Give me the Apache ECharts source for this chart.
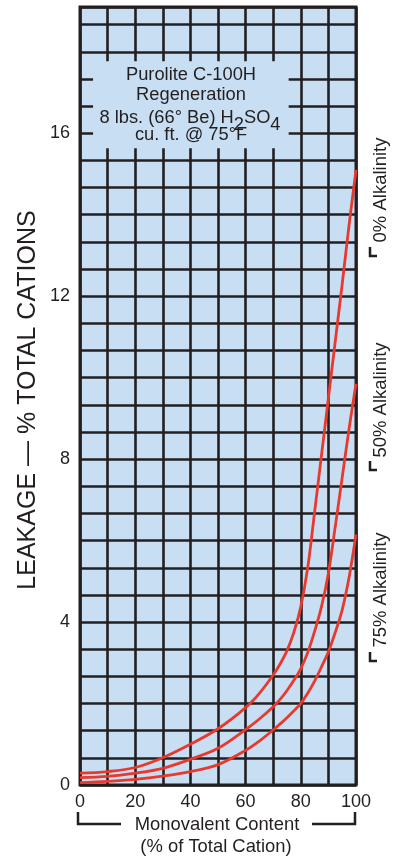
<!DOCTYPE html>
<html><head><meta charset="utf-8">
<script src="https://cdn.jsdelivr.net/npm/echarts@6/dist/echarts.min.js"></script>
<style>html,body{margin:0;padding:0;background:#fff}#c{width:399px;height:859px}</style>
</head><body><div id="c"></div>
<script>
// Data
const monovalent = [0,10,20,30,40,50,60,65,70,72.5,75,77.5,80,82.5,85,87.5,90,92.5,95,97.5,100];
const alk0  = [0.29,0.33,0.43,0.67,1.0,1.38,1.9,2.25,2.7,2.97,3.3,3.75,4.38,5.33,6.7,8.1,9.5,10.9,12.3,13.75,15.1];
const alk50 = [0.18,0.21,0.29,0.41,0.63,0.9,1.36,1.62,1.92,2.1,2.32,2.57,2.86,3.25,3.77,4.38,5.2,6.35,7.55,8.75,9.85];
const alk75 = [0.06,0.09,0.14,0.22,0.33,0.5,0.85,1.08,1.35,1.5,1.65,1.82,2.0,2.25,2.55,2.9,3.27,3.75,4.3,5.1,6.15];
const seriesNames = ['0% Alkalinity','50% Alkalinity','75% Alkalinity'];
const xTickLabels = [0,20,40,60,80,100];
const yTickLabels = [0,4,8,12,16];
const boxLines = ['Purolite C-100H','Regeneration','8 lbs. (66° Be) H{sub|2}SO{sub|4}','cu. ft. @ 75°F'];

const FONT = '"Liberation Sans", Arial, Helvetica, sans-serif';
const INK = '#231f20';
const BG = '#c8dff3';
const RED = '#e8392f';

const chart = echarts.init(document.getElementById('c'), null, {renderer:'canvas'});
const pair = arr => monovalent.map((x,i)=>[x,arr[i]]);
const mkSeries = (name, arr, extra) => Object.assign({
  name, type:'line', data: pair(arr), xAxisIndex:0, yAxisIndex:0,
  showSymbol:false, smooth:0.35,
  lineStyle:{color:RED, width:2.8}, z:5
}, extra||{});

const option = {
  animation:false,
  backgroundColor:'#ffffff',
  grid:{left:80, right:43, top:7, bottom:74, show:true, backgroundColor:BG, borderColor:INK, borderWidth:3},
  xAxis:{type:'value', min:0, max:100, interval:10,
    axisLine:{show:false}, axisTick:{show:false},
    splitLine:{show:true, lineStyle:{color:INK, width:2.6}},
    axisLabel:{margin:8, color:INK, fontSize:18, fontFamily:FONT,
      formatter:v=> xTickLabels.indexOf(v)>=0 ? String(v) : ''}},
  yAxis:[
    {type:'value', min:0, max:19.1, interval:2/3,
      axisLine:{show:false}, axisTick:{show:false}, axisLabel:{show:false},
      splitLine:{show:true, lineStyle:{color:INK, width:2.6}}},
    {type:'value', min:0, max:19.1, interval:4, position:'left',
      axisLine:{show:false}, axisTick:{show:false}, splitLine:{show:false},
      axisLabel:{margin:10, color:INK, fontSize:18, fontFamily:FONT,
        formatter:v=> yTickLabels.indexOf(v)>=0 ? String(v) : ''}}
  ],
  series:[
    mkSeries(seriesNames[0], alk0, {
      markArea:{silent:true, itemStyle:{color:BG, borderWidth:0, opacity:1},
        data:[[{coord:[4.73,17.77]},{coord:[75.6,15.63]}]]}
    }),
    mkSeries(seriesNames[1], alk50),
    mkSeries(seriesNames[2], alk75)
  ],
  graphic:[]
};

const g = [];
const txt = (text, x, y, size, extra, rot) => {
  const el = {type:'text', x, y, z:100, silent:true,
    style:Object.assign({text, x:0, y:0, fill:INK, font:size+'px '+FONT,
      align:'center', verticalAlign:'middle', textAlign:'center', textVerticalAlign:'middle'}, extra||{})};
  if (rot) el.rotation = rot;
  g.push(el);
};
// Box text
txt(boxLines[0], 191, 75, 18.3);
txt(boxLines[1], 191, 95, 18.3);
txt(boxLines[2], 190, 118, 18.3, {rich:{sub:{font:'18.3px '+FONT, fill:INK, padding:[13,0,0,0]}}});
txt(boxLines[3], 191, 135, 18.3);
// Y-axis title
txt('LEAKAGE — % TOTAL CATIONS', 28, 400, 25, null, Math.PI/2);
// X-axis title
txt('Monovalent Content', 217, 825, 18.4);
txt('(% of Total Cation)', 216, 847, 18.4);
// Bracket lines for x title
g.push({type:'polyline', silent:true, z:100, shape:{points:[[78,812],[78,824],[121,824]]}, style:{stroke:INK, lineWidth:2.5, fill:null}});
g.push({type:'polyline', silent:true, z:100, shape:{points:[[312,824],[355,824],[355,812]]}, style:{stroke:INK, lineWidth:2.5, fill:null}});
// Right side curve labels
const rightLabels = [{t:seriesNames[0], cy:190, ly:256},{t:seriesNames[1], cy:400, ly:470},{t:seriesNames[2], cy:590, ly:661}];
rightLabels.forEach(r=>{
  txt(r.t, 381, r.cy, 18.5, null, Math.PI/2);
  g.push({type:'polyline', silent:true, z:100, shape:{points:[[370,r.ly-9],[370,r.ly],[377,r.ly]]}, style:{stroke:INK, lineWidth:2.5, fill:null}});
});
option.graphic = g;
chart.setOption(option);
</script>
</body></html>
